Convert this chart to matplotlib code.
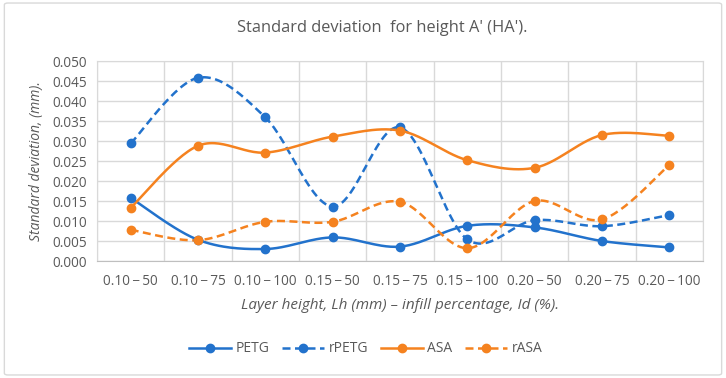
import numpy as np
import matplotlib
matplotlib.use("Agg")
import matplotlib.pyplot as plt
from matplotlib.patches import FancyBboxPatch

categories = ["0.10\u2009\u2212\u200950", "0.10\u2009\u2212\u200975", "0.10\u2009\u2212\u2009100",
              "0.15\u2009\u2212\u200950", "0.15\u2009\u2212\u200975", "0.15\u2009\u2212\u2009100",
              "0.20\u2009\u2212\u200950", "0.20\u2009\u2212\u200975", "0.20\u2009\u2212\u2009100"]
petg = [0.0158, 0.0053, 0.0030, 0.0059, 0.0036, 0.0088, 0.0084, 0.0050, 0.0034]
rpetg = [0.0294, 0.0458, 0.0359, 0.0136, 0.0334, 0.0054, 0.0102, 0.0087, 0.0115]
asa = [0.0133, 0.0288, 0.0271, 0.0311, 0.0326, 0.0252, 0.0233, 0.0315, 0.0313]
rasa = [0.0078, 0.0052, 0.0098, 0.0098, 0.0148, 0.0032, 0.0150, 0.0104, 0.0240]
yticks = [0.000, 0.005, 0.010, 0.015, 0.020, 0.025, 0.030, 0.035, 0.040, 0.045, 0.050]

FONT = "Open Sans"
GRAY = "#595959"
BLUE = "#2272CC"
ORANGE = "#F5821F"


def smooth(y, n=30):
    x = np.arange(len(y), dtype=float)
    y = np.asarray(y, dtype=float)
    xs, ys = [], []
    for i in range(len(y) - 1):
        p0 = np.array([x[i - 1] if i > 0 else x[i], y[i - 1] if i > 0 else y[i]])
        p1 = np.array([x[i], y[i]])
        p2 = np.array([x[i + 1], y[i + 1]])
        p3 = np.array([x[i + 2], y[i + 2]]) if i + 2 < len(y) else p2
        c1 = p1 + (p2 - p0) / 6.0
        c2 = p2 - (p3 - p1) / 6.0
        t = np.linspace(0, 1, n)[:, None]
        pts = ((1 - t) ** 3) * p1 + 3 * ((1 - t) ** 2) * t * c1 + 3 * (1 - t) * t ** 2 * c2 + t ** 3 * p2
        xs.extend(pts[:, 0]); ys.extend(pts[:, 1])
    return np.array(xs), np.array(ys)


fig = plt.figure(figsize=(7.26, 3.78), dpi=100)
fig.patch.set_facecolor("white")
border = FancyBboxPatch((0.006, 0.008), 0.988, 0.984, boxstyle="round,pad=0,rounding_size=0.005",
                        transform=fig.transFigure, facecolor="none", edgecolor="#D9D9D9", lw=1.0, zorder=10)
fig.patches.append(border)

ax = fig.add_axes([0.1336, 0.3095, 0.8347, 0.5291])
xi = np.arange(len(categories))
series = [("PETG", petg, BLUE, "-"), ("rPETG", rpetg, BLUE, (0, (3.2, 1.8))),
          ("ASA", asa, ORANGE, "-"), ("rASA", rasa, ORANGE, (0, (3.2, 1.8)))]
for name, vals, col, ls in series:
    sx, sy = smooth(vals)
    ax.plot(sx, sy, color=col, lw=1.8, ls=ls, zorder=3)
    ax.plot(xi, vals, "o", color=col, ms=6, zorder=4)
    ax.plot([], [], color=col, lw=1.8, ls=ls, marker="o", ms=6, label=name)

ax.set_xlim(-0.5, len(categories) - 0.5)
ax.set_ylim(0, 0.05)
ax.set_yticks(yticks)
ax.set_yticklabels([f"{v:.3f}" for v in yticks], fontsize=9.8, color=GRAY, fontname=FONT)
ax.set_xticks(xi)
ax.set_xticklabels(categories, fontsize=9.8, color=GRAY, fontname=FONT)
ax.set_xticks(np.arange(-0.5, len(categories), 1), minor=True)
ax.set_axisbelow(True)
ax.grid(True, which="major", axis="y", color="#D9D9D9", lw=1)
ax.grid(True, which="minor", axis="x", color="#D9D9D9", lw=1)
ax.tick_params(which="both", length=0)
ax.tick_params(axis="x", pad=9)
ax.tick_params(axis="y", pad=7)
for s in ax.spines.values():
    s.set_color("#D9D9D9")
ax.spines["bottom"].set_color("#BFBFBF")

fig.text(0.526, 0.925, "Standard deviation  for height A' (HA').", fontsize=11.8, color=GRAY,
         fontname=FONT, ha="center", va="center")
ax.set_ylabel("Standard deviation, (mm).", fontsize=10, color=GRAY, fontname=FONT, style="italic", labelpad=6)
ax.set_xlabel("Layer height, Lh (mm) \u2013 infill percentage, Id (%).", fontsize=11, color=GRAY,
              fontname=FONT, style="italic", labelpad=7)

leg = fig.legend(loc="center", bbox_to_anchor=(0.504, 0.077), ncol=4, frameon=False,
                 prop={"family": FONT, "size": 10}, handlelength=3.0, columnspacing=0.9, handletextpad=0.35)
for t in leg.get_texts():
    t.set_color(GRAY)

fig.savefig("out.png", dpi=100)
